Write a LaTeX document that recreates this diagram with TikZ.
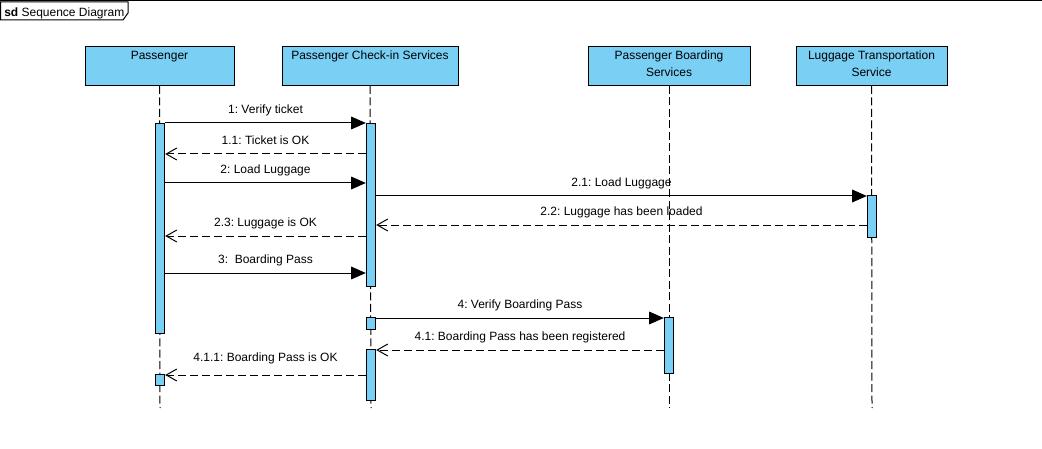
\documentclass[tikz,border=0pt]{standalone}
\usepackage{fontspec}
\setmainfont{Liberation Sans}
\usepackage{xcolor}
\usetikzlibrary{arrows.meta}
\usetikzlibrary{positioning}
\definecolor{lifeblue}{RGB}{122,207,245}
\frenchspacing

\begin{document}
\begin{tikzpicture}[x=0.75pt, y=-0.75pt,
    every node/.style={font=\fontsize{9}{12.75}\selectfont},
    lifehead/.style={rectangle, draw, fill=lifeblue, minimum width=#1, minimum height=29.25pt, anchor=north, inner sep=0pt, line width=0.75pt},
    headtext/.style={anchor=north, align=center, inner sep=0pt, yshift=-3.4pt},
    lifeline/.style={line width=0.75pt, dash pattern=on 6pt off 2.6pt},
    act/.style={rectangle, draw, fill=lifeblue, minimum width=7pt, minimum height=#1, anchor=north, inner sep=0pt, line width=0.75pt},
    sync/.style={line width=0.75pt, -{Triangle[length=11pt, width=9.5pt]}},
    reply/.style={line width=0.75pt, dash pattern=on 6pt off 3pt, -{Straight Barb[length=8pt, width=9pt]}},
    msg/.style={anchor=base, inner sep=0pt, yshift=7pt},
  ]
  \useasboundingbox (0,0) rectangle (1042,449);

  % Frame
  \draw[line width=0.75pt] (0,1) -- (1042,1);
  \draw[line width=0.75pt] (0.5,2) -- (128,2) -- (128,13) -- (123,20) -- (0.5,20) -- cycle;
  \node[anchor=base west, inner sep=0pt] (sdtitle) at (4,16.5) {\textbf{sd} Sequence Diagram};

  % Lifeline heads
  \node[lifehead=111.75pt, label={[headtext]north:Passenger}] (pas) at (159.5,46) {};
  \node[lifehead=132pt, label={[headtext]north:Passenger Check-in Services}] (chk) at (370,46) {};
  \node[lifehead=121.5pt, label={[headtext]north:Passenger Boarding\\Services}] (brd) at (669,46) {};
  \node[lifehead=113.25pt, label={[headtext]north:Luggage Transportation\\Service}] (lug) at (871.5,46) {};

  % Lifelines
  \coordinate (pasend) at (160,408);
  \coordinate (chkend) at (371,408);
  \coordinate (brdend) at (669,408);
  \coordinate (lugend) at (872,408);
  \draw[lifeline] (pas.south) -- (pasend);
  \draw[lifeline] (chk.south) -- (chkend);
  \draw[lifeline] (brd.south) -- (brdend);
  \draw[lifeline] (lug.south) -- (lugend);

  % Activations
  \node[act=157.5pt] (pa1) at (160,123) {};
  \node[act=8.25pt]  (pa2) at (160,374) {};
  \node[act=122.25pt] (ca1) at (371,123) {};
  \node[act=9pt]     (ca2) at (371,317) {};
  \node[act=38.25pt] (ca3) at (371,349) {};
  \node[act=42pt]    (ba1) at (669,317) {};
  \node[act=31.5pt]  (la1) at (872,195) {};

  % Message rows
  \coordinate (y1) at (0,123);
  \coordinate (y11) at (0,154);
  \coordinate (y2) at (0,183);
  \coordinate (y21) at (0,196);
  \coordinate (y22) at (0,225);
  \coordinate (y23) at (0,236);
  \coordinate (y3) at (0,273);
  \coordinate (y4) at (0,318);
  \coordinate (y41) at (0,350);
  \coordinate (y411) at (0,375);

  % Messages
  \draw[sync] (pa1.east |- y1) -- node[msg] {1: Verify ticket} (ca1.west |- y1);
  \draw[reply] (ca1.west |- y11) -- node[msg] {1.1: Ticket is OK} (pa1.east |- y11);
  \draw[sync] (pa1.east |- y2) -- node[msg] {2: Load Luggage} (ca1.west |- y2);
  \draw[sync] (ca1.east |- y21) -- node[msg] {2.1: Load Luggage} (la1.west |- y21);
  \draw[reply] (la1.west |- y22) -- node[msg] {2.2: Luggage has been loaded} (ca1.east |- y22);
  \draw[reply] (ca1.west |- y23) -- node[msg] {2.3: Luggage is OK} (pa1.east |- y23);
  \draw[sync] (pa1.east |- y3) -- node[msg] {3: \ Boarding Pass} (ca1.west |- y3);
  \draw[sync] (ca2.east |- y4) -- node[msg] {4: Verify Boarding Pass} (ba1.west |- y4);
  \draw[reply] (ba1.west |- y41) -- node[msg] {4.1: Boarding Pass has been registered} (ca3.east |- y41);
  \draw[reply] (ca3.west |- y411) -- node[msg, yshift=3pt] {4.1.1: Boarding Pass is OK} (pa2.east |- y411);

\end{tikzpicture}
\end{document}
